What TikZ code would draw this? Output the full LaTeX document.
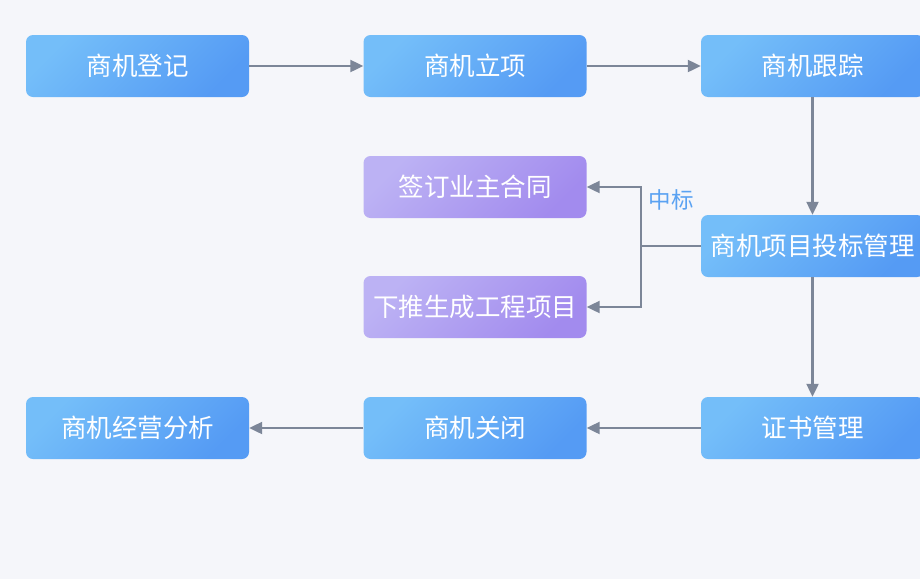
\documentclass[tikz,border=0pt]{standalone}
\usepackage{fontspec}
\newfontfamily\cjk{Noto Sans CJK SC}
\usetikzlibrary{arrows.meta}

\definecolor{bluelight}{HTML}{74BEF9}
\definecolor{bluedark}{HTML}{559BF4}
\definecolor{purplelight}{HTML}{BCB2F4}
\definecolor{purpledark}{HTML}{A28BEE}
\definecolor{linegray}{HTML}{7C8698}
\definecolor{pagebg}{HTML}{F5F6FA}
\definecolor{labelblue}{HTML}{5AA2F2}

\tikzset{
    stage/.style={rectangle, rounded corners=7pt, minimum width=223pt, minimum height=62pt,
        inner sep=0pt, left color=bluelight, right color=bluedark, shading angle=45,
        text=white, font=\cjk\fontsize{25.5}{25.5}\selectfont},
    task/.style={stage, left color=purplelight, right color=purpledark, shading angle=45},
    flow/.style={draw=linegray, line width=2.2pt, -{Triangle[length=13pt, width=12pt]}},
    branch/.style={draw=linegray, line width=2.2pt}
}

\begin{document}
\begin{tikzpicture}[x=1pt, y=-1pt]
    \useasboundingbox (0,0) rectangle (920,579);
    \fill[pagebg] (0,0) rectangle (920,579);

    % first row
    \node[stage] (register) at (137.5,66) {商机登记};
    \node[stage] (setup) at (475,66) {商机立项};
    \node[stage] (track) at (812.5,66) {商机跟踪};

    % bidding and its outcome
    \node[stage] (bid) at (812.5,246) {商机项目投标管理};
    \node[task] (sign) at (475,187) {签订业主合同};
    \node[task] (push) at (475,307) {下推生成工程项目};

    % last row
    \node[stage] (cert) at (812.5,428) {证书管理};
    \node[stage] (close) at (475,428) {商机关闭};
    \node[stage] (analysis) at (137.5,428) {商机经营分析};

    \draw[flow] (register) -- (setup);
    \draw[flow] (setup) -- (track);
    \draw[flow] (track) -- (bid);
    \draw[flow] (bid) -- (cert);
    \draw[flow] (cert) -- (close);
    \draw[flow] (close) -- (analysis);

    \draw[branch] (bid.west) -- ++(-60,0) coordinate (fork);
    \draw[flow] (fork) |- (sign.east);
    \draw[flow] (fork) |- (push.east);
    \node[text=labelblue, font=\cjk\fontsize{22.5}{22.5}\selectfont] (won) at (671,200) {中标};
\end{tikzpicture}
\end{document}
